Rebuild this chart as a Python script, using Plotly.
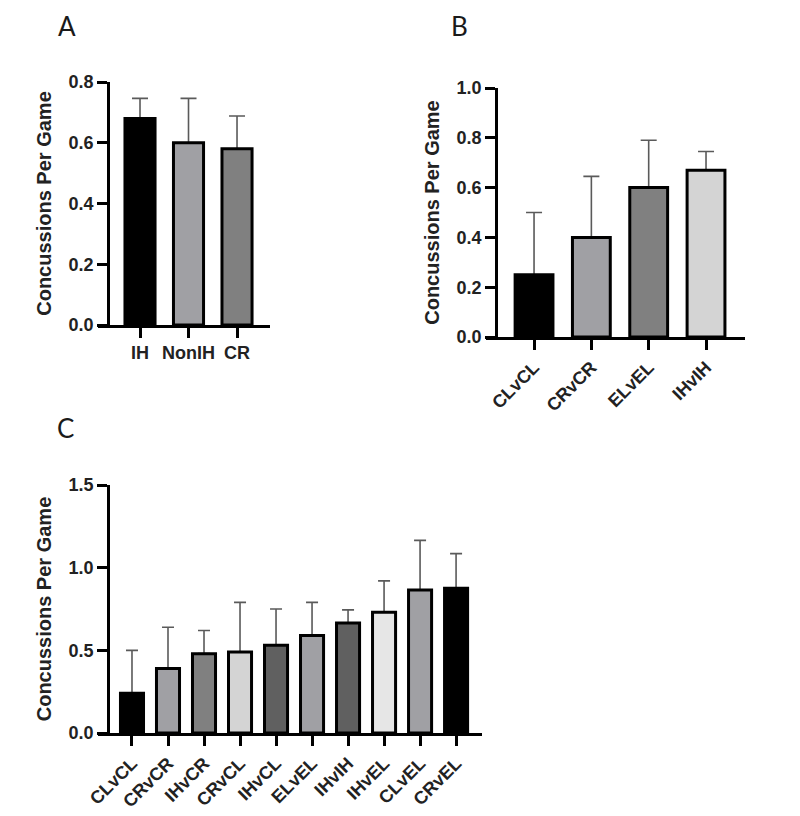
import plotly.graph_objects as go

# Panel A
a_cats = ["IH", "NonIH", "CR"]
a_vals = [0.68, 0.60, 0.58]
a_err = [0.066, 0.146, 0.108]
a_colors = ["#000000", "#a0a0a4", "#808080"]

# Panel B
b_cats = ["CLvCL", "CRvCR", "ELvEL", "IHvIH"]
b_vals = [0.25, 0.40, 0.60, 0.67]
b_err = [0.25, 0.245, 0.19, 0.075]
b_colors = ["#000000", "#a0a0a4", "#808080", "#d4d4d4"]

# Panel C
c_cats = ["CLvCL", "CRvCR", "IHvCR", "CRvCL", "IHvCL", "ELvEL", "IHvIH", "IHvEL", "CLvEL", "CRvEL"]
c_vals = [0.24, 0.39, 0.48, 0.49, 0.53, 0.59, 0.665, 0.73, 0.865, 0.875]
c_err = [0.26, 0.25, 0.14, 0.30, 0.22, 0.20, 0.08, 0.19, 0.30, 0.21]
c_colors = ["#000000", "#a0a0a4", "#808080", "#d4d4d4", "#606060",
            "#a0a0a4", "#606060", "#e6e6e6", "#a0a0a4", "#000000"]

W, H = 800, 816
OFF = 8  # page body margin offset
err_color = "#5a5a5a"

fig = go.Figure()

def add_bars(cats, vals, err, colors, xa, ya, width, capw):
    # error bars first (hidden bars), then the visible bars on top
    fig.add_trace(go.Bar(
        x=cats, y=vals, xaxis=xa, yaxis=ya, width=width,
        marker=dict(color="rgba(0,0,0,0)", line=dict(width=0)),
        error_y=dict(type="data", symmetric=False, array=err,
                     arrayminus=[0] * len(err), color=err_color,
                     thickness=1.6, width=capw),
        showlegend=False, hoverinfo="skip",
    ))
    fig.add_trace(go.Bar(
        x=cats, y=vals, xaxis=xa, yaxis=ya, width=width,
        marker=dict(color=colors, line=dict(color="#000000", width=3)),
        showlegend=False,
    ))

add_bars(a_cats, a_vals, a_err, a_colors, "x", "y", 0.62, 8)
add_bars(b_cats, b_vals, b_err, b_colors, "x2", "y2", 0.66, 8)
add_bars(c_cats, c_vals, c_err, c_colors, "x3", "y3", 0.64, 6)

tickfont = dict(family="Liberation Sans, Arial, sans-serif", size=18, color="#222222")
titlefont = dict(family="Liberation Sans, Arial, sans-serif", size=20, color="#222222")

def xaxis_cfg(domain, anchor, rng, angle, cats):
    return dict(domain=domain, anchor=anchor, range=rng, showline=True,
                linecolor="#000000", linewidth=2.5, ticks="outside",
                ticklen=10, tickwidth=2.5, tickcolor="#000000",
                tickfont=tickfont, tickangle=angle, showgrid=False,
                zeroline=False, tickmode="array", tickvals=cats,
                ticktext=[f"<b>{c}</b>" for c in cats], automargin=False)

def yaxis_cfg(domain, pos, rng, vals):
    return dict(domain=domain, anchor="free", position=(pos - OFF) / W, range=rng,
                showline=True, linecolor="#000000", automargin=False,
                linewidth=2.5, ticks="outside", ticklen=10, tickwidth=2.5,
                tickcolor="#000000", tickfont=tickfont, showgrid=False,
                zeroline=False, tickmode="array", tickvals=vals,
                ticktext=[f"<b>{v:.1f}</b>" for v in vals],
                title=dict(text="<b>Concussions Per Game</b>",
                           font=titlefont, standoff=10))

def dom_x(l, r):
    return [(l - OFF) / W, (r - OFF) / W]

def dom_y(top, bottom):
    return [1 - (bottom - OFF) / H, 1 - (top - OFF) / H]

fig.update_layout(
    width=W, height=H,
    margin=dict(l=0, r=0, t=0, b=0, autoexpand=False),
    paper_bgcolor="white", plot_bgcolor="white",
    barmode="overlay",
    xaxis=xaxis_cfg(dom_x(98, 270), "y", [-0.866, 2.68], 0, a_cats),
    yaxis=yaxis_cfg(dom_y(82, 325), 108, [0, 0.8], [0, 0.2, 0.4, 0.6, 0.8]),
    xaxis2=xaxis_cfg(dom_x(486, 745), "y2", [-0.838, 3.68], -45, b_cats),
    yaxis2=yaxis_cfg(dom_y(88, 337), 496, [0, 1.0], [0, 0.2, 0.4, 0.6, 0.8, 1.0]),
    xaxis3=xaxis_cfg(dom_x(98, 482), "y3", [-0.944, 9.72], -45, c_cats),
    yaxis3=yaxis_cfg(dom_y(485, 733), 108, [0, 1.5], [0, 0.5, 1.0, 1.5]),
)

letter_font = dict(family="Lato, Open Sans, sans-serif", size=26, color="#1a1a1a")
# (text, centre x in page px, top of text box in figure px)
for txt, x, top in [("A", 67, 0), ("B", 460, 0), ("C", 66, 402)]:
    fig.add_annotation(text=txt, x=(x - OFF) / W, y=1 - top / H,
                       xref="paper", yref="paper", showarrow=False,
                       font=letter_font, xanchor="center", yanchor="top")

fig.write_html("out.html")
